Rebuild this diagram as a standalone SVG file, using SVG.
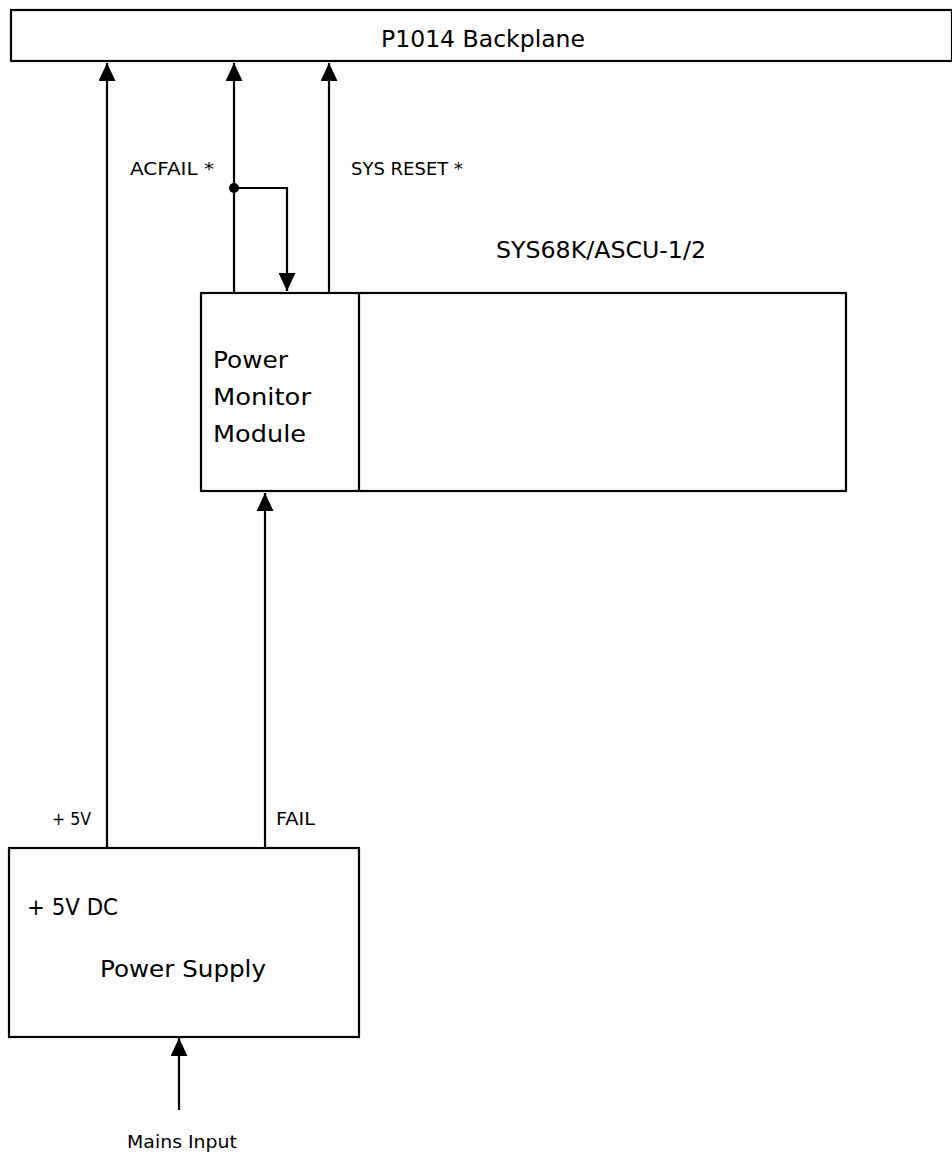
<svg xmlns="http://www.w3.org/2000/svg" width="952" height="1154" viewBox="0 0 952 1154">
<style>
.box{fill:#fff;stroke:#000;stroke-width:2.2}
.ln{fill:none;stroke:#000;stroke-width:2.2}
.t{font-family:"DejaVu Sans","Liberation Sans",sans-serif;fill:#000}
.big{font-size:23px}
.sm{font-size:18px}
</style>
<defs>
<marker id="ah" markerUnits="userSpaceOnUse" markerWidth="18" markerHeight="17" refX="18" refY="8.5" orient="auto" viewBox="0 0 18 17">
<path d="M0,0 L18,8.5 L0,17 z" fill="#000"/>
</marker>
</defs>
<rect width="952" height="1154" fill="#fff"/>
<g id="backplane">
<rect class="box" x="11" y="10" width="941" height="51"/>
<text class="t big" x="381" y="47" textLength="204" lengthAdjust="spacingAndGlyphs">P1014 Backplane</text>
</g>
<g id="ascu">
<rect class="box" x="201" y="293" width="645" height="198"/>
<line class="ln" x1="359" y1="293" x2="359" y2="491"/>
<text class="t big" x="496" y="258" textLength="210" lengthAdjust="spacingAndGlyphs">SYS68K/ASCU-1/2</text>
</g>
<g id="pmm">
<text class="t big" x="213" y="368" textLength="75" lengthAdjust="spacingAndGlyphs">Power</text>
<text class="t big" x="213" y="405" textLength="98" lengthAdjust="spacingAndGlyphs">Monitor</text>
<text class="t big" x="213" y="442" textLength="93" lengthAdjust="spacingAndGlyphs">Module</text>
</g>
<g id="psu">
<rect class="box" x="9" y="848" width="350" height="189"/>
<text class="t big" x="27" y="915" textLength="91" lengthAdjust="spacingAndGlyphs">+ 5V DC</text>
<text class="t big" x="100" y="977" textLength="166" lengthAdjust="spacingAndGlyphs">Power Supply</text>
</g>
<g id="connectors">
<line class="ln" x1="107" y1="848" x2="107" y2="63" marker-end="url(#ah)"/>
<line class="ln" x1="234" y1="293" x2="234" y2="63" marker-end="url(#ah)"/>
<line class="ln" x1="329" y1="293" x2="329" y2="63" marker-end="url(#ah)"/>
<circle cx="234" cy="188" r="5" fill="#000"/>
<polyline class="ln" points="234,188 287,188 287,291" marker-end="url(#ah)"/>
<line class="ln" x1="265" y1="848" x2="265" y2="493" marker-end="url(#ah)"/>
<line class="ln" x1="179" y1="1110" x2="179" y2="1038" marker-end="url(#ah)"/>
</g>
<g id="labels">
<text class="t sm" x="130" y="175" textLength="84" lengthAdjust="spacingAndGlyphs">ACFAIL *</text>
<text class="t sm" x="351" y="175" textLength="112" lengthAdjust="spacingAndGlyphs">SYS RESET *</text>
<text class="t sm" x="52" y="825" textLength="39" lengthAdjust="spacingAndGlyphs">+ 5V</text>
<text class="t sm" x="276" y="825" textLength="39" lengthAdjust="spacingAndGlyphs">FAIL</text>
<text class="t sm" x="127" y="1148" textLength="110" lengthAdjust="spacingAndGlyphs">Mains Input</text>
</g>
</svg>
